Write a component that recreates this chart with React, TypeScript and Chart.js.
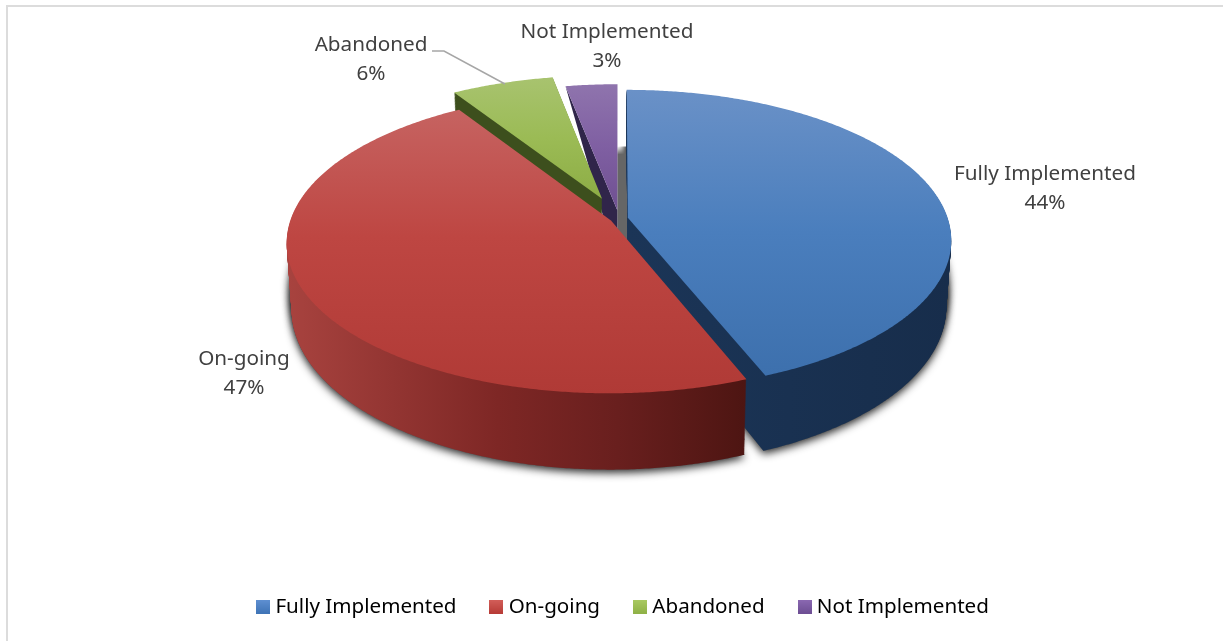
import React, { useEffect, useRef } from "react";
import { Chart, registerables } from "chart.js";

Chart.register(...registerables);

// Share of each implementation status, in percent.
const categories = ["Fully Implemented", "On-going", "Abandoned", "Not Implemented"];
const shares = [44, 47, 6, 3];

// How far each wedge is pulled out of the pie, in radius pixels.
const sliceOffsets = [9, 9, 47, 18];

// Flat colours of the wedges, also used for the hidden base dataset colours.
const baseColors = ["#4a7ebb", "#be4b48", "#98b954", "#7d60a0"];

// Vertical shading of the top faces: [stop, colour].
const topShades: [number, string][][] = [
  [[0, "#6a91c7"], [0.5, "#4a7ebd"], [1, "#3d70ad"]],
  [[0, "#c66361"], [0.45, "#be4642"], [1, "#b03a36"]],
  [[0, "#a8c36f"], [0.5, "#9bbb55"], [1, "#8dad45"]],
  [[0, "#8f74ad"], [0.5, "#7f5fa2"], [1, "#6f5091"]],
];

// Horizontal shading of the side walls: [stop, colour].
const sideShades: [number, string][][] = [
  [[0, "#1b3557"], [1, "#172d4b"]],
  [[0, "#a8433f"], [0.46, "#7e2725"], [0.72, "#691f1e"], [1, "#4d1512"]],
  [[0, "#3d4f1d"], [1, "#3d4f1d"]],
  [[0, "#30254a"], [1, "#30254a"]],
];

// Legend swatch shading, top to bottom.
const swatchShades = [
  ["#5f90d2", "#3f74b6"],
  ["#d35f5a", "#b73b37"],
  ["#aaca62", "#8fb146"],
  ["#8b69b2", "#6d4e93"],
];

// Anchor of each two-line value label.
const labelAnchors = [
  { x: 1045, y: 189 },
  { x: 244, y: 374 },
  { x: 371, y: 60 },
  { x: 607, y: 47 },
];

// Polyline tying the "Abandoned" label to its wedge.
const leaderLine = [
  { x: 432, y: 51 },
  { x: 444, y: 51 },
  { x: 505, y: 84 },
];

// Projection of the pie plane onto the page.
const PIE = { cx: 619, cy: 218.5, radius: 320, squash: 0.459, tilt: 0.147, depth: 65, taper: 0.015 };
const FONT = '"Noto Sans", "Open Sans", sans-serif';

type Pt = { x: number; y: number };

function project(arc: any, angle: number, r: number, t: number): Pt {
  const mid = (arc.startAngle + arc.endAngle) / 2;
  const off = arc.options.offset || 0;
  const R = arc.outerRadius;
  const u = (Math.cos(angle) * r + Math.cos(mid) * off) / R;
  const v = (Math.sin(angle) * r + Math.sin(mid) * off) / R;
  const w = 1 / (1 - PIE.tilt * v);
  return {
    x: PIE.cx + R * (1 - PIE.taper * t) * u * w,
    y: PIE.cy + R * PIE.squash * v * w + PIE.depth * t * w,
  };
}

function traceSlice(ctx: CanvasRenderingContext2D, arc: any, t: number) {
  const R = arc.outerRadius;
  const steps = Math.max(4, Math.ceil((arc.endAngle - arc.startAngle) / 0.008));
  const tip = project(arc, arc.startAngle, 0, t);
  ctx.beginPath();
  ctx.moveTo(tip.x, tip.y);
  for (let i = 0; i <= steps; i++) {
    const a = arc.startAngle + ((arc.endAngle - arc.startAngle) * i) / steps;
    const p = project(arc, a, R, t);
    ctx.lineTo(p.x, p.y);
  }
  ctx.closePath();
}

function shade(g: CanvasGradient, stops: [number, string][]) {
  stops.forEach(([s, c]) => g.addColorStop(s, c));
  return g;
}

function sliceBounds(arc: any, t: number) {
  const pts = [project(arc, arc.startAngle, 0, t)];
  for (let i = 0; i <= 60; i++) {
    const a = arc.startAngle + ((arc.endAngle - arc.startAngle) * i) / 60;
    pts.push(project(arc, a, arc.outerRadius, t));
  }
  const xs = pts.map((p) => p.x);
  const ys = pts.map((p) => p.y);
  return { left: Math.min(...xs), right: Math.max(...xs), top: Math.min(...ys), bottom: Math.max(...ys) };
}

// Draws the wedges as an extruded, tilted disc from the arcs the controller laid out.
const tiltedPie = {
  id: "tiltedPie",
  beforeDatasetsDraw(chart: any) {
    const ctx: CanvasRenderingContext2D = chart.ctx;
    const arcs = chart.getDatasetMeta(0).data;

    // Soft shadow under the two large wedges.
    ctx.save();
    ctx.shadowColor = "rgba(0,0,0,0.85)";
    ctx.shadowBlur = 9;
    ctx.shadowOffsetX = 0;
    ctx.shadowOffsetY = 3;
    ctx.fillStyle = "#555555";
    [arcs[0], arcs[1]].forEach((arc: any) => {
      for (const t of [1, 0.8, 0.6]) {
        traceSlice(ctx, arc, t);
        ctx.fill();
      }
    });
    ctx.restore();

    // Shadow seen through the gap between the blue and purple wedges.
    const blueTip = project(arcs[0], arcs[0].startAngle, 0, 0);
    const purpleTip = project(arcs[3], arcs[3].startAngle, 0, 0);
    const gapTop = sliceBounds(arcs[0], 1).top;
    ctx.fillStyle = "#ffffff";
    ctx.fillRect(purpleTip.x - 40, 80, blueTip.x - purpleTip.x + 40, gapTop - 80);
    const gap = ctx.createLinearGradient(0, gapTop, 0, gapTop + 8);
    gap.addColorStop(0, "rgba(102,102,102,0)");
    gap.addColorStop(1, "#666666");
    ctx.fillStyle = gap;
    ctx.fillRect(purpleTip.x, gapTop, blueTip.x - purpleTip.x, blueTip.y + 22 - gapTop);

    // Back to front: purple, green, blue, red.
    [3, 2, 0, 1].forEach((i) => {
      const arc = arcs[i];
      const box = sliceBounds(arc, 0);
      const side = shade(ctx.createLinearGradient(box.left, 0, box.right, 0), sideShades[i]);
      ctx.fillStyle = side;
      if (i === 3) {
        // The thin wedge only shows a sliver of its cut face.
        const tip = project(arc, arc.startAngle, 0, 0);
        const corner = project(arc, arc.startAngle, arc.outerRadius, 0);
        ctx.beginPath();
        ctx.moveTo(corner.x, corner.y);
        ctx.lineTo(tip.x, tip.y);
        ctx.lineTo(tip.x, tip.y + 40);
        ctx.lineTo(tip.x - 15, tip.y + 40);
        ctx.lineTo(tip.x - 15, tip.y + 3);
        ctx.closePath();
        ctx.fill();
      } else {
        for (let k = 75; k >= 1; k--) {
          traceSlice(ctx, arc, k / 75);
          ctx.fill();
        }
      }
      ctx.fillStyle = shade(ctx.createLinearGradient(0, box.top, 0, box.bottom), topShades[i]);
      traceSlice(ctx, arc, 0);
      ctx.fill();
    });
    return false;
  },
  afterDraw(chart: any) {
    const ctx: CanvasRenderingContext2D = chart.ctx;
    ctx.save();
    ctx.strokeStyle = "#a6a6a6";
    ctx.lineWidth = 1.5;
    ctx.beginPath();
    leaderLine.forEach((p, i) => (i ? ctx.lineTo(p.x, p.y) : ctx.moveTo(p.x, p.y)));
    ctx.stroke();

    ctx.font = `20.7px ${FONT}`;
    ctx.fillStyle = "#404040";
    ctx.textAlign = "center";
    ctx.textBaseline = "middle";
    categories.forEach((name, i) => {
      const a = labelAnchors[i];
      ctx.fillText(name, a.x, a.y - 14.5);
      ctx.fillText(`${shares[i]}%`, a.x, a.y + 14.5);
    });
    ctx.restore();
  },
  beforeDraw(chart: any) {
    // Thin frame along the top and left of the panel.
    const ctx: CanvasRenderingContext2D = chart.ctx;
    ctx.save();
    ctx.fillStyle = "#ffffff";
    ctx.fillRect(0, 0, chart.width, chart.height);
    ctx.fillStyle = "#dcdcdc";
    ctx.fillRect(6, 5, chart.width - 6, 2);
    ctx.fillRect(6, 5, 2, chart.height - 5);
    ctx.restore();
  },
};

function makeSwatch(colors: string[]) {
  const c = document.createElement("canvas");
  c.width = 14;
  c.height = 14;
  const g = c.getContext("2d")!;
  const grad = g.createLinearGradient(0, 0, 0, 14);
  grad.addColorStop(0, colors[0]);
  grad.addColorStop(1, colors[1]);
  g.fillStyle = grad;
  g.fillRect(0, 0, 14, 14);
  return c;
}

export default function App() {
  const ref = useRef<HTMLCanvasElement>(null);

  useEffect(() => {
    document.body.style.margin = "0";
    const swatches = swatchShades.map(makeSwatch);
    const chart = new Chart(ref.current!, {
      type: "pie",
      data: {
        labels: categories,
        datasets: [
          {
            data: shares,
            backgroundColor: baseColors,
            borderWidth: 0,
            offset: sliceOffsets,
          },
        ],
      },
      options: {
        responsive: false,
        animation: false,
        radius: PIE.radius,
        layout: { padding: { left: 27, bottom: 14 } },
        plugins: {
          tooltip: { enabled: false },
          legend: {
            position: "bottom",
            labels: {
              usePointStyle: true,
              pointStyleWidth: 4,
              boxHeight: 14,
              padding: 38,
              color: "#595959",
              font: { family: FONT, size: 20.6 },
              generateLabels: () =>
                categories.map((text, index) => ({
                  text,
                  index,
                  fillStyle: baseColors[index],
                  strokeStyle: baseColors[index],
                  lineWidth: 0,
                  hidden: false,
                  pointStyle: swatches[index],
                })),
            },
          },
        },
      },
      plugins: [tiltedPie],
    } as any);
    return () => chart.destroy();
  }, []);

  return (
    <div style={{ width: 1223, height: 641 }}>
      <canvas ref={ref} width={1223} height={641} style={{ display: "block" }} />
    </div>
  );
}
